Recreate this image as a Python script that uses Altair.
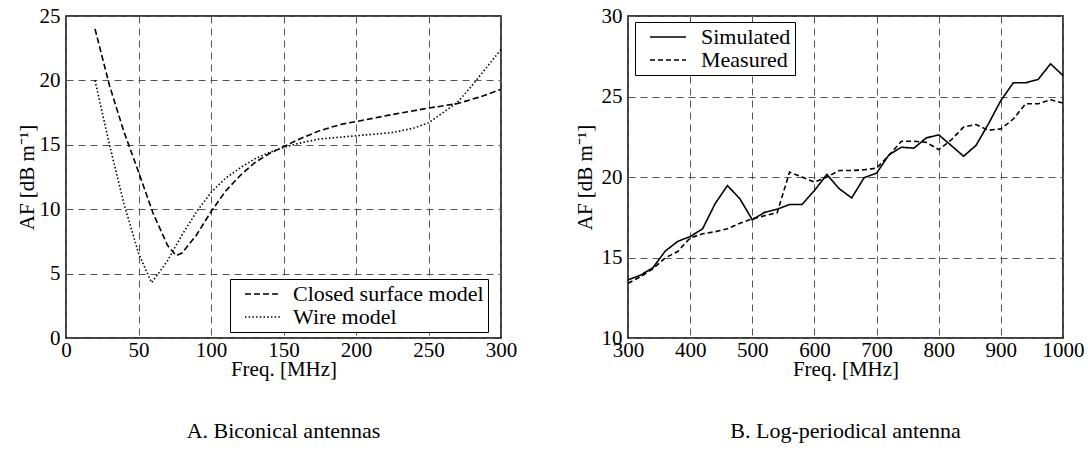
import altair as alt
import pandas as pd

# ---------- Panel A: Biconical antennas ----------
freq_closed = [20, 30, 40, 50, 60, 70, 76, 80, 90, 100, 110, 120, 130, 140, 150,
               160, 175, 190, 200, 225, 250, 270, 285, 300]
af_closed = [24.0, 19.6, 16.0, 12.9, 9.7, 7.2, 6.4, 6.6, 8.0, 9.8, 11.4, 12.6, 13.6,
             14.3, 14.85, 15.4, 16.1, 16.6, 16.8, 17.35, 17.85, 18.2, 18.7, 19.3]
freq_wire = [20, 30, 40, 50, 55, 59, 65, 70, 75, 80, 90, 100, 110, 120, 130, 140,
             150, 160, 175, 200, 225, 240, 250, 260, 270, 280, 290, 300]
af_wire = [20.0, 15.0, 10.4, 6.6, 5.3, 4.3, 5.2, 6.0, 7.0, 8.0, 9.8, 11.3, 12.4,
           13.2, 13.9, 14.4, 14.8, 15.1, 15.45, 15.7, 15.95, 16.3, 16.7, 17.5,
           18.3, 19.6, 21.0, 22.4]

# ---------- Panel B: Log-periodical antenna ----------
freq_b = [300, 320, 340, 360, 380, 400, 420, 440, 460, 480, 500, 520, 540, 560,
          580, 600, 620, 640, 660, 680, 700, 720, 740, 760, 780, 800, 820, 840,
          860, 880, 900, 920, 940, 960, 980, 1000]
af_sim = [13.61, 13.9, 14.36, 15.4, 16.0, 16.3, 16.78, 18.33, 19.47, 18.65, 17.34,
          17.81, 18.0, 18.29, 18.29, 19.16, 20.16, 19.27, 18.7, 19.96, 20.24, 21.38,
          21.85, 21.79, 22.43, 22.62, 21.96, 21.29, 21.96, 23.3, 24.75, 25.85, 25.85,
          26.06, 27.03, 26.3]
af_meas = [13.4, 13.8, 14.3, 14.98, 15.37, 16.22, 16.47, 16.6, 16.78, 17.13, 17.4,
           17.6, 17.78, 20.3, 20.0, 19.68, 20.0, 20.4, 20.4, 20.45, 20.55, 21.35,
           22.22, 22.22, 22.15, 21.7, 22.3, 23.1, 23.26, 22.9, 22.99, 23.6, 24.55,
           24.55, 24.8, 24.6]

ticks_a_x = [0, 50, 100, 150, 200, 250, 300]
ticks_a_y = [0, 5, 10, 15, 20, 25]
ticks_b_x = [300, 400, 500, 600, 700, 800, 900, 1000]
ticks_b_y = [10, 15, 20, 25, 30]

FONT = "Liberation Serif"
LINE_SYMBOL = "M0,0H6"

df_a = pd.concat([
    pd.DataFrame({"f": freq_closed, "af": af_closed, "model": "Closed surface model"}),
    pd.DataFrame({"f": freq_wire, "af": af_wire, "model": "Wire model"}),
])
df_b = pd.concat([
    pd.DataFrame({"f": freq_b, "af": af_sim, "series": "Simulated"}),
    pd.DataFrame({"f": freq_b, "af": af_meas, "series": "Measured"}),
])

W, H = 435, 322

def xaxis(vals):
    return alt.Axis(values=vals, title="Freq. [MHz]", grid=True, ticks=False, format="d",
                    domain=False, labelPadding=1, titlePadding=-2, labelFlush=False)

def yaxis(vals, tp):
    return alt.Axis(values=vals, title="AF [dB m\u207b\u00b9]", grid=True, ticks=False,
                    domain=False, labelPadding=6, titlePadding=tp, labelFlush=False)

chart_a = alt.Chart(df_a).mark_line(color="black", strokeWidth=1.6).encode(
    x=alt.X("f:Q", scale=alt.Scale(domain=[0, 300], nice=False), axis=xaxis(ticks_a_x)),
    y=alt.Y("af:Q", scale=alt.Scale(domain=[0, 25], nice=False), axis=yaxis(ticks_a_y, 2)),
    strokeDash=alt.StrokeDash(
        "model:N",
        scale=alt.Scale(domain=["Closed surface model", "Wire model"],
                        range=[[6, 3], [1.5, 2.2]]),
        legend=alt.Legend(title=None, orient="none", legendX=164, legendY=263,
                          symbolSize=144, labelOffset=37),
    ),
).properties(
    width=W, height=H,
    title=alt.TitleParams("A. Biconical antennas", orient="bottom", anchor="middle",
                          offset=42),
)

chart_b = alt.Chart(df_b).mark_line(color="black", strokeWidth=1.6).encode(
    x=alt.X("f:Q", scale=alt.Scale(domain=[300, 1000], nice=False), axis=xaxis(ticks_b_x)),
    y=alt.Y("af:Q", scale=alt.Scale(domain=[10, 30], nice=False), axis=yaxis(ticks_b_y, 6)),
    strokeDash=alt.StrokeDash(
        "series:N",
        scale=alt.Scale(domain=["Simulated", "Measured"], range=[[1, 0], [5, 3]]),
        legend=alt.Legend(title=None, orient="none", legendX=7, legendY=6,
                          symbolSize=144, labelOffset=40),
    ),
).properties(
    width=W, height=H,
    title=alt.TitleParams("B. Log-periodical antenna", orient="bottom", anchor="middle",
                          offset=42),
)

chart = alt.hconcat(chart_a, chart_b, spacing=127, bounds="flush").resolve_scale(
    strokeDash="independent", x="independent", y="independent"
).resolve_legend(strokeDash="independent").properties(
    padding={"left": 15, "top": 4, "right": 0, "bottom": 0},
    background="white",
).configure_view(
    stroke="black", strokeWidth=1.5
).configure_axis(
    labelFont=FONT, labelFontSize=21, labelColor="black",
    titleFont=FONT, titleFontSize=21, titleFontWeight="normal", titleColor="black",
    gridColor="#555555", gridDash=[7, 5], gridWidth=1, gridOpacity=1,
).configure_legend(
    labelFont=FONT, labelFontSize=22, labelColor="black", labelLimit=400,
    strokeColor="black", fillColor="white", padding=4, cornerRadius=0,
    symbolType=LINE_SYMBOL, symbolStrokeColor="black", symbolStrokeWidth=1.6,
    symbolFillColor="transparent", rowPadding=1,
).configure_title(
    font=FONT, fontSize=22, fontWeight="normal", color="black",
)

chart.save("out.html", embed_options={"renderer": "svg", "actions": False})
